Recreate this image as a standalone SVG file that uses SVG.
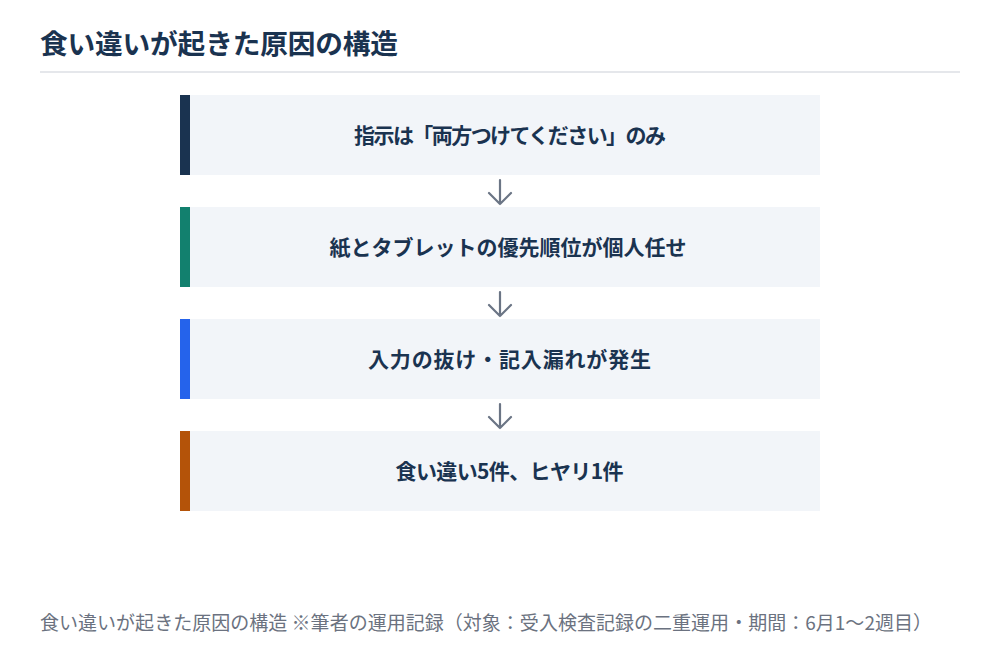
<svg xmlns="http://www.w3.org/2000/svg" width="1000" height="660" viewBox="0 0 1000 660">
<style>
.title{font-family:"Noto Sans CJK JP","Noto Sans",sans-serif;font-size:27.7px;font-weight:700;fill:#1a3350}
.lbl{font-family:"Noto Sans CJK JP","Noto Sans",sans-serif;font-size:21px;font-weight:700;fill:#1a3350;text-anchor:middle}
.foot{font-family:"Noto Sans CJK JP","Noto Sans",sans-serif;font-size:19px;fill:#6b7280}
.box{fill:#f2f5f9}
.arr{fill:none;stroke:#6b7585;stroke-width:2.2;stroke-linecap:round;stroke-linejoin:round}
</style>
<rect width="1000" height="660" fill="#ffffff"/>
<text class="title" x="40" y="54" textLength="358" lengthAdjust="spacing">食い違いが起きた原因の構造</text>
<rect x="40" y="71" width="920" height="2" fill="#e5e7eb"/>
<g id="n1">
<rect class="box" x="180" y="95" width="640" height="80"/>
<rect x="180" y="95" width="10" height="80" fill="#1a3350"/>
<text class="lbl" x="510" y="143" textLength="312" lengthAdjust="spacing">指示は「両方つけてください」のみ</text>
</g>
<g id="n2">
<rect class="box" x="180" y="207" width="640" height="80"/>
<rect x="180" y="207" width="10" height="80" fill="#12806e"/>
<text class="lbl" x="508" y="255">紙とタブレットの優先順位が個人任せ</text>
</g>
<g id="n3">
<rect class="box" x="180" y="319" width="640" height="80"/>
<rect x="180" y="319" width="10" height="80" fill="#2563eb"/>
<text class="lbl" x="509.5" y="367" textLength="283" lengthAdjust="spacing">入力の抜け・記入漏れが発生</text>
</g>
<g id="n4">
<rect class="box" x="180" y="431" width="640" height="80"/>
<rect x="180" y="431" width="10" height="80" fill="#b45309"/>
<text class="lbl" x="509.5" y="479" textLength="228" lengthAdjust="spacing">食い違い5件、ヒヤリ1件</text>
</g>
<g id="connectors">
<path class="arr" d="M500 180V204M489 193L500 204L511 193"/>
<path class="arr" d="M500 292V316M489 305L500 316L511 305"/>
<path class="arr" d="M500 404V428M489 417L500 428L511 417"/>
</g>
<text class="foot" x="40" y="630" textLength="892" lengthAdjust="spacing">食い違いが起きた原因の構造 ※筆者の運用記録（対象：受入検査記録の二重運用・期間：6月1〜2週目）</text>
</svg>
